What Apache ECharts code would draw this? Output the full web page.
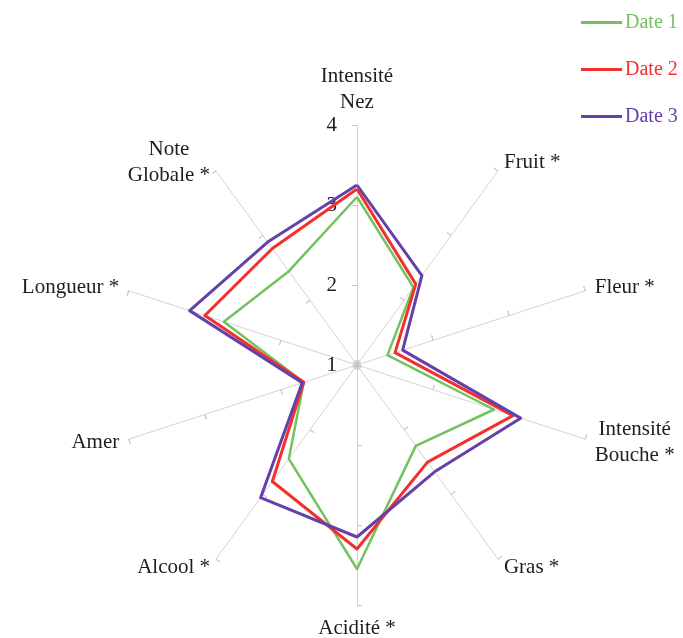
<!DOCTYPE html>
<html>
<head>
<meta charset="utf-8">
<script src="https://cdn.jsdelivr.net/npm/echarts@6/dist/echarts.min.js"></script>
<style>
  html, body { margin: 0; padding: 0; background: #fff; }
  #radarChart { width: 683px; height: 638px; }
</style>
</head>
<body>
<div id="radarChart"></div>
<script>
// axes listed clockwise from the top, as read on the picture
var categories = ['Intensité\nNez', 'Fruit *', 'Fleur *', 'Intensité\nBouche *', 'Gras *',
                  'Acidité *', 'Alcool *', 'Amer', 'Longueur *', 'Note\nGlobale *'];
var date1 = [3.1, 2.2, 1.4, 2.8, 2.25, 3.55, 2.45, 1.7, 2.75, 2.45];
var date2 = [3.2, 2.25, 1.5, 3.05, 2.5, 3.3, 2.8, 1.7, 3.0, 2.8];
var date3 = [3.25, 2.38, 1.6, 3.15, 2.65, 3.15, 3.05, 1.72, 3.2, 2.9];
var seriesNames = ['Date 1', 'Date 2', 'Date 3'];
var scaleMin = 1, scaleMax = 4;

var colors = ['#74c160', '#f2302c', '#6640a8'];
var serif = '"Liberation Serif", "Times New Roman", serif';
var ink = '#1e1e1e';

// echarts puts indicators counter-clockwise, so flip the order (keep the top one first)
function ccw(arr) {
    return [arr[0]].concat(arr.slice(1).reverse());
}

var indicators = ccw(categories).map(function (name, i) {
    return {
        name: name,
        min: scaleMin,
        max: scaleMax,
        axisLabel: { show: i === 0 }
    };
});
var tickIndicators = ccw(categories).map(function (name) {
    return { name: name, min: scaleMin, max: scaleMax };
});

var radarBase = {
    center: [357, 365],
    radius: 240,
    startAngle: 90,
    splitNumber: 3,
    shape: 'polygon',
    splitLine: { show: false },
    splitArea: { show: false }
};

var textBase = { fontFamily: serif, fontSize: 21, color: ink };

var option = {
    color: colors,
    backgroundColor: '#fff',
    legend: {
        orient: 'vertical',
        left: 581,
        top: 12,
        padding: 0,
        itemWidth: 41,
        itemHeight: 3,
        itemGap: 26,
        icon: 'rect',
        textStyle: { fontFamily: serif, fontSize: 20, lineHeight: 21, padding: [0, 0, 0, -2] },
        data: seriesNames.map(function (n, i) {
            return { name: n, textStyle: { color: colors[i] } };
        })
    },
    radar: [
        Object.assign({}, radarBase, {
            indicator: indicators,
            nameGap: 10,
            axisName: Object.assign({}, textBase, {
                formatter: function (name) {
                    return name.split('\n').map(function (s) { return '{c|' + s + '}'; }).join('\n');
                },
                rich: { c: Object.assign({ align: 'center', lineHeight: 26 }, textBase) }
            }),
            axisLine: { lineStyle: { color: '#d4d4d4', width: 1 } },
            axisTick: { show: true, length: 5, lineStyle: { color: '#c4c4c4' } },
            axisLabel: Object.assign({ show: false, margin: 20 }, textBase)
        }),
        Object.assign({}, radarBase, {
            indicator: tickIndicators,
            axisName: { show: false },
            axisLine: { show: false },
            axisTick: { show: true, inside: true, length: 5, lineStyle: { color: '#c4c4c4' } },
            axisLabel: { show: false }
        })
    ],
    series: [{
        type: 'radar',
        radarIndex: 0,
        symbol: 'none',
        lineStyle: { width: 3 },
        data: [
            { name: seriesNames[0], value: ccw(date1), lineStyle: { color: colors[0], width: 2.5 } },
            { name: seriesNames[1], value: ccw(date2), lineStyle: { color: colors[1], width: 3 } },
            { name: seriesNames[2], value: ccw(date3), lineStyle: { color: colors[2], width: 3 } }
        ]
    }]
};

var chart = echarts.init(document.getElementById('radarChart'));
chart.setOption(option);
</script>
</body>
</html>
